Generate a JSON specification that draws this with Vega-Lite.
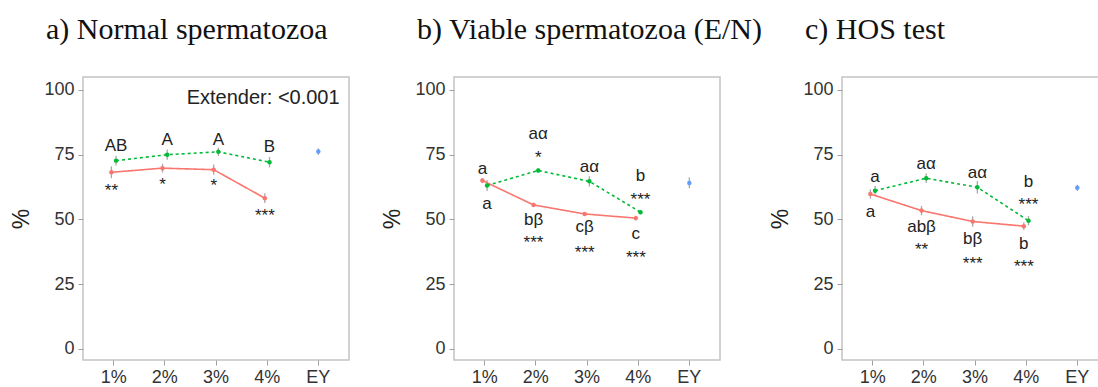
{
  "$schema": "https://vega.github.io/schema/vega-lite/v6.json",
  "padding": {"left": 10, "top": 14, "right": 0, "bottom": 5},
  "background": "white",
  "config": {
    "view": {"stroke": "#c4c4c4", "strokeWidth": 1.5},
    "axis": {"grid": false, "domain": false, "tickColor": "#a0a0a0", "tickSize": 5, "labelFont": "Liberation Sans", "labelFontSize": 18, "labelColor": "#333", "titleFont": "Liberation Sans", "titleFontSize": 23, "titleFontWeight": "normal", "titleColor": "#222"},
    "title": {"font": "Liberation Serif", "fontSize": 30, "fontWeight": "normal", "color": "#111", "anchor": "start", "frame": "group", "dx": -37, "offset": 32},
    "legend": {"disable": true}
  },
  "datasets": {
    "aData": [
      {"dose": "1%", "series": "s1", "mean": 68.2, "lo": 65.9, "hi": 70.5},
      {"dose": "2%", "series": "s1", "mean": 69.8, "lo": 68.1, "hi": 71.5},
      {"dose": "3%", "series": "s1", "mean": 69.2, "lo": 67.2, "hi": 71.2},
      {"dose": "4%", "series": "s1", "mean": 58.2, "lo": 56.3, "hi": 60.1},
      {"dose": "1%", "series": "s2", "mean": 72.7, "lo": 70.8, "hi": 74.6},
      {"dose": "2%", "series": "s2", "mean": 75.0, "lo": 73.0, "hi": 77.0},
      {"dose": "3%", "series": "s2", "mean": 76.1, "lo": 74.5, "hi": 77.7},
      {"dose": "4%", "series": "s2", "mean": 72.1, "lo": 70.1, "hi": 74.1},
      {"dose": "EY", "series": "EY", "mean": 76.2, "lo": 74.9, "hi": 77.5}
    ],
    "aLab": [
      {"dose": "1%", "series": "s2", "y": 78.5, "label": "AB"},
      {"dose": "2%", "series": "s2", "y": 80.8, "label": "A"},
      {"dose": "3%", "series": "s2", "y": 80.8, "label": "A"},
      {"dose": "4%", "series": "s2", "y": 77.9, "label": "B"},
      {"dose": "1%", "series": "s1", "y": 62.7, "label": "**"},
      {"dose": "2%", "series": "s1", "y": 65.0, "label": "*"},
      {"dose": "3%", "series": "s1", "y": 64.6, "label": "*"},
      {"dose": "4%", "series": "s1", "y": 52.8, "label": "***"}
    ],
    "bData": [
      {"dose": "1%", "series": "s1", "mean": 65.0, "lo": 64.0, "hi": 66.0},
      {"dose": "2%", "series": "s1", "mean": 55.6, "lo": 54.8, "hi": 56.4},
      {"dose": "3%", "series": "s1", "mean": 52.1, "lo": 51.4, "hi": 52.8},
      {"dose": "4%", "series": "s1", "mean": 50.5, "lo": 49.6, "hi": 51.4},
      {"dose": "1%", "series": "s2", "mean": 63.1, "lo": 61.0, "hi": 65.2},
      {"dose": "2%", "series": "s2", "mean": 68.9, "lo": 68.0, "hi": 69.8},
      {"dose": "3%", "series": "s2", "mean": 64.7, "lo": 62.7, "hi": 66.7},
      {"dose": "4%", "series": "s2", "mean": 52.8, "lo": 52.0, "hi": 53.6},
      {"dose": "EY", "series": "EY", "mean": 64.1, "lo": 62.0, "hi": 66.2}
    ],
    "bLab": [
      {"dose": "1%", "series": "s1", "y": 69.5, "label": "a"},
      {"dose": "1%", "series": "s2", "y": 56.0, "label": "a"},
      {"dose": "2%", "series": "s2", "y": 83.0, "label": "aα"},
      {"dose": "2%", "series": "s2", "y": 75.3, "label": "*"},
      {"dose": "3%", "series": "s2", "y": 70.1, "label": "aα"},
      {"dose": "4%", "series": "s2", "y": 66.9, "label": "b"},
      {"dose": "4%", "series": "s2", "y": 59.2, "label": "***"},
      {"dose": "2%", "series": "s1", "y": 49.9, "label": "bβ"},
      {"dose": "2%", "series": "s1", "y": 42.5, "label": "***"},
      {"dose": "3%", "series": "s1", "y": 47.0, "label": "cβ"},
      {"dose": "3%", "series": "s1", "y": 38.6, "label": "***"},
      {"dose": "4%", "series": "s1", "y": 44.4, "label": "c"},
      {"dose": "4%", "series": "s1", "y": 36.7, "label": "***"}
    ],
    "cData": [
      {"dose": "1%", "series": "s1", "mean": 59.8, "lo": 58.0, "hi": 61.6},
      {"dose": "2%", "series": "s1", "mean": 53.4, "lo": 51.6, "hi": 55.2},
      {"dose": "3%", "series": "s1", "mean": 49.2, "lo": 47.2, "hi": 51.2},
      {"dose": "4%", "series": "s1", "mean": 47.4, "lo": 45.9, "hi": 48.9},
      {"dose": "1%", "series": "s2", "mean": 61.1, "lo": 59.3, "hi": 62.9},
      {"dose": "2%", "series": "s2", "mean": 65.9, "lo": 64.1, "hi": 67.7},
      {"dose": "3%", "series": "s2", "mean": 62.4, "lo": 60.0, "hi": 64.8},
      {"dose": "4%", "series": "s2", "mean": 49.5, "lo": 47.7, "hi": 51.3},
      {"dose": "EY", "series": "EY", "mean": 62.2, "lo": 61.0, "hi": 63.4}
    ],
    "cLab": [
      {"dose": "1%", "series": "s2", "y": 66.3, "label": "a"},
      {"dose": "1%", "series": "s1", "y": 52.8, "label": "a"},
      {"dose": "2%", "series": "s2", "y": 71.4, "label": "aα"},
      {"dose": "3%", "series": "s2", "y": 68.1, "label": "aα"},
      {"dose": "4%", "series": "s2", "y": 64.6, "label": "b"},
      {"dose": "4%", "series": "s2", "y": 57.3, "label": "***"},
      {"dose": "2%", "series": "s1", "y": 47.0, "label": "abβ"},
      {"dose": "2%", "series": "s1", "y": 39.6, "label": "**"},
      {"dose": "3%", "series": "s1", "y": 42.5, "label": "bβ"},
      {"dose": "3%", "series": "s1", "y": 34.5, "label": "***"},
      {"dose": "4%", "series": "s1", "y": 40.5, "label": "b"},
      {"dose": "4%", "series": "s1", "y": 33.2, "label": "***"}
    ],
    "extender": [
      {"dose": "4%", "y": 97, "label": "Extender: <0.001"}
    ]
  },
  "spacing": 5,
  "hconcat": [
    {
      "bounds": "flush",
      "spacing": 105,
      "hconcat": [
        {
          "width": 266, "height": 283,
          "title": {"text": "a) Normal spermatozoa"},
          "encoding": {
            "x": {"field": "dose", "type": "ordinal", "scale": {"domain": ["1%", "2%", "3%", "4%", "EY"], "paddingInner": 0, "paddingOuter": 0.1}, "axis": {"title": null, "labelAngle": 0, "labelPadding": 3}},
            "y": {"type": "quantitative", "scale": {"domain": [-4.3, 105], "nice": false, "zero": false}, "axis": {"values": [0, 25, 50, 75, 100], "title": "%", "labelPadding": 4, "titlePadding": 10}}
          },
          "layer": [
            {"data": {"name": "aData"}, "mark": {"type": "rule", "color": "#a8a8a8", "strokeWidth": 1.3},
             "encoding": {"xOffset": {"field": "series", "scale": {"type": "point", "domain": ["s1", "EY", "s2"], "range": [22.1, 29.1]}}, "y": {"field": "lo"}, "y2": {"field": "hi"}}},
            {"data": {"name": "aData"}, "transform": [{"filter": "datum.series !== 'EY'"}], "mark": {"type": "line", "strokeWidth": 1.6},
             "encoding": {"xOffset": {"field": "series", "scale": {"type": "point", "domain": ["s1", "EY", "s2"], "range": [22.1, 29.1]}}, "y": {"field": "mean"}, "color": {"field": "series", "scale": {"domain": ["s1", "EY", "s2"], "range": ["#F8766D", "#619CFF", "#00BA38"]}}, "strokeDash": {"field": "series", "scale": {"domain": ["s1", "s2"], "range": [[1, 0], [3, 3]]}}}},
            {"data": {"name": "aData"}, "mark": {"type": "point", "filled": true, "size": 20, "opacity": 1},
             "encoding": {"xOffset": {"field": "series", "scale": {"type": "point", "domain": ["s1", "EY", "s2"], "range": [22.1, 29.1]}}, "y": {"field": "mean"}, "color": {"field": "series", "scale": {"domain": ["s1", "EY", "s2"], "range": ["#F8766D", "#619CFF", "#00BA38"]}}}},
            {"data": {"name": "aLab"}, "transform": [{"filter": "indexof(datum.label, '*') < 0"}], "mark": {"type": "text", "font": "Liberation Sans", "fontSize": 17, "color": "#222", "baseline": "middle"},
             "encoding": {"xOffset": {"field": "series", "scale": {"type": "point", "domain": ["s1", "EY", "s2"], "range": [22.1, 29.1]}}, "y": {"field": "y"}, "text": {"field": "label"}}},
            {"data": {"name": "aLab"}, "transform": [{"filter": "indexof(datum.label, '*') >= 0"}], "mark": {"type": "text", "font": "Liberation Sans", "fontSize": 17, "color": "#222", "baseline": "middle", "dy": 4},
             "encoding": {"xOffset": {"field": "series", "scale": {"type": "point", "domain": ["s1", "EY", "s2"], "range": [22.1, 29.1]}}, "y": {"field": "y"}, "text": {"field": "label"}}},
            {"data": {"name": "extender"}, "mark": {"type": "text", "font": "Liberation Sans", "fontSize": 20, "color": "#222", "baseline": "middle", "dx": -4},
             "encoding": {"y": {"field": "y"}, "text": {"field": "label"}}}
          ]
        },
        {
          "width": 266, "height": 283,
          "title": {"text": "b) Viable spermatozoa (E/N)"},
          "encoding": {
            "x": {"field": "dose", "type": "ordinal", "scale": {"domain": ["1%", "2%", "3%", "4%", "EY"], "paddingInner": 0, "paddingOuter": 0.1}, "axis": {"title": null, "labelAngle": 0, "labelPadding": 3}},
            "y": {"type": "quantitative", "scale": {"domain": [-4.3, 105], "nice": false, "zero": false}, "axis": {"values": [0, 25, 50, 75, 100], "title": "%", "labelPadding": 4, "titlePadding": 10}}
          },
          "layer": [
            {"data": {"name": "bData"}, "mark": {"type": "rule", "color": "#a8a8a8", "strokeWidth": 1.3},
             "encoding": {"xOffset": {"field": "series", "scale": {"type": "point", "domain": ["s1", "EY", "s2"], "range": [22.1, 29.1]}}, "y": {"field": "lo"}, "y2": {"field": "hi"}}},
            {"data": {"name": "bData"}, "transform": [{"filter": "datum.series !== 'EY'"}], "mark": {"type": "line", "strokeWidth": 1.6},
             "encoding": {"xOffset": {"field": "series", "scale": {"type": "point", "domain": ["s1", "EY", "s2"], "range": [22.1, 29.1]}}, "y": {"field": "mean"}, "color": {"field": "series", "scale": {"domain": ["s1", "EY", "s2"], "range": ["#F8766D", "#619CFF", "#00BA38"]}}, "strokeDash": {"field": "series", "scale": {"domain": ["s1", "s2"], "range": [[1, 0], [3, 3]]}}}},
            {"data": {"name": "bData"}, "mark": {"type": "point", "filled": true, "size": 20, "opacity": 1},
             "encoding": {"xOffset": {"field": "series", "scale": {"type": "point", "domain": ["s1", "EY", "s2"], "range": [22.1, 29.1]}}, "y": {"field": "mean"}, "color": {"field": "series", "scale": {"domain": ["s1", "EY", "s2"], "range": ["#F8766D", "#619CFF", "#00BA38"]}}}},
            {"data": {"name": "bLab"}, "transform": [{"filter": "indexof(datum.label, '*') < 0"}], "mark": {"type": "text", "font": "Liberation Sans", "fontSize": 17, "color": "#222", "baseline": "middle"},
             "encoding": {"xOffset": {"field": "series", "scale": {"type": "point", "domain": ["s1", "EY", "s2"], "range": [22.1, 29.1]}}, "y": {"field": "y"}, "text": {"field": "label"}}},
            {"data": {"name": "bLab"}, "transform": [{"filter": "indexof(datum.label, '*') >= 0"}], "mark": {"type": "text", "font": "Liberation Sans", "fontSize": 17, "color": "#222", "baseline": "middle", "dy": 4},
             "encoding": {"xOffset": {"field": "series", "scale": {"type": "point", "domain": ["s1", "EY", "s2"], "range": [22.1, 29.1]}}, "y": {"field": "y"}, "text": {"field": "label"}}}
          ]
        }
      ]
    },
    {
      "width": 266, "height": 283,
      "title": {"text": "c) HOS test"},
      "encoding": {
        "x": {"field": "dose", "type": "ordinal", "scale": {"domain": ["1%", "2%", "3%", "4%", "EY"], "paddingInner": 0, "paddingOuter": 0.1}, "axis": {"title": null, "labelAngle": 0, "labelPadding": 3}},
        "y": {"type": "quantitative", "scale": {"domain": [-4.3, 105], "nice": false, "zero": false}, "axis": {"values": [0, 25, 50, 75, 100], "title": "%", "labelPadding": 4, "titlePadding": 10}}
      },
      "layer": [
        {"data": {"name": "cData"}, "mark": {"type": "rule", "color": "#a8a8a8", "strokeWidth": 1.3},
         "encoding": {"xOffset": {"field": "series", "scale": {"type": "point", "domain": ["s1", "EY", "s2"], "range": [22.1, 29.1]}}, "y": {"field": "lo"}, "y2": {"field": "hi"}}},
        {"data": {"name": "cData"}, "transform": [{"filter": "datum.series !== 'EY'"}], "mark": {"type": "line", "strokeWidth": 1.6},
         "encoding": {"xOffset": {"field": "series", "scale": {"type": "point", "domain": ["s1", "EY", "s2"], "range": [22.1, 29.1]}}, "y": {"field": "mean"}, "color": {"field": "series", "scale": {"domain": ["s1", "EY", "s2"], "range": ["#F8766D", "#619CFF", "#00BA38"]}}, "strokeDash": {"field": "series", "scale": {"domain": ["s1", "s2"], "range": [[1, 0], [3, 3]]}}}},
        {"data": {"name": "cData"}, "mark": {"type": "point", "filled": true, "size": 20, "opacity": 1},
         "encoding": {"xOffset": {"field": "series", "scale": {"type": "point", "domain": ["s1", "EY", "s2"], "range": [22.1, 29.1]}}, "y": {"field": "mean"}, "color": {"field": "series", "scale": {"domain": ["s1", "EY", "s2"], "range": ["#F8766D", "#619CFF", "#00BA38"]}}}},
        {"data": {"name": "cLab"}, "transform": [{"filter": "indexof(datum.label, '*') < 0"}], "mark": {"type": "text", "font": "Liberation Sans", "fontSize": 17, "color": "#222", "baseline": "middle"},
         "encoding": {"xOffset": {"field": "series", "scale": {"type": "point", "domain": ["s1", "EY", "s2"], "range": [22.1, 29.1]}}, "y": {"field": "y"}, "text": {"field": "label"}}},
        {"data": {"name": "cLab"}, "transform": [{"filter": "indexof(datum.label, '*') >= 0"}], "mark": {"type": "text", "font": "Liberation Sans", "fontSize": 17, "color": "#222", "baseline": "middle", "dy": 4},
         "encoding": {"xOffset": {"field": "series", "scale": {"type": "point", "domain": ["s1", "EY", "s2"], "range": [22.1, 29.1]}}, "y": {"field": "y"}, "text": {"field": "label"}}}
      ]
    }
  ]
}
